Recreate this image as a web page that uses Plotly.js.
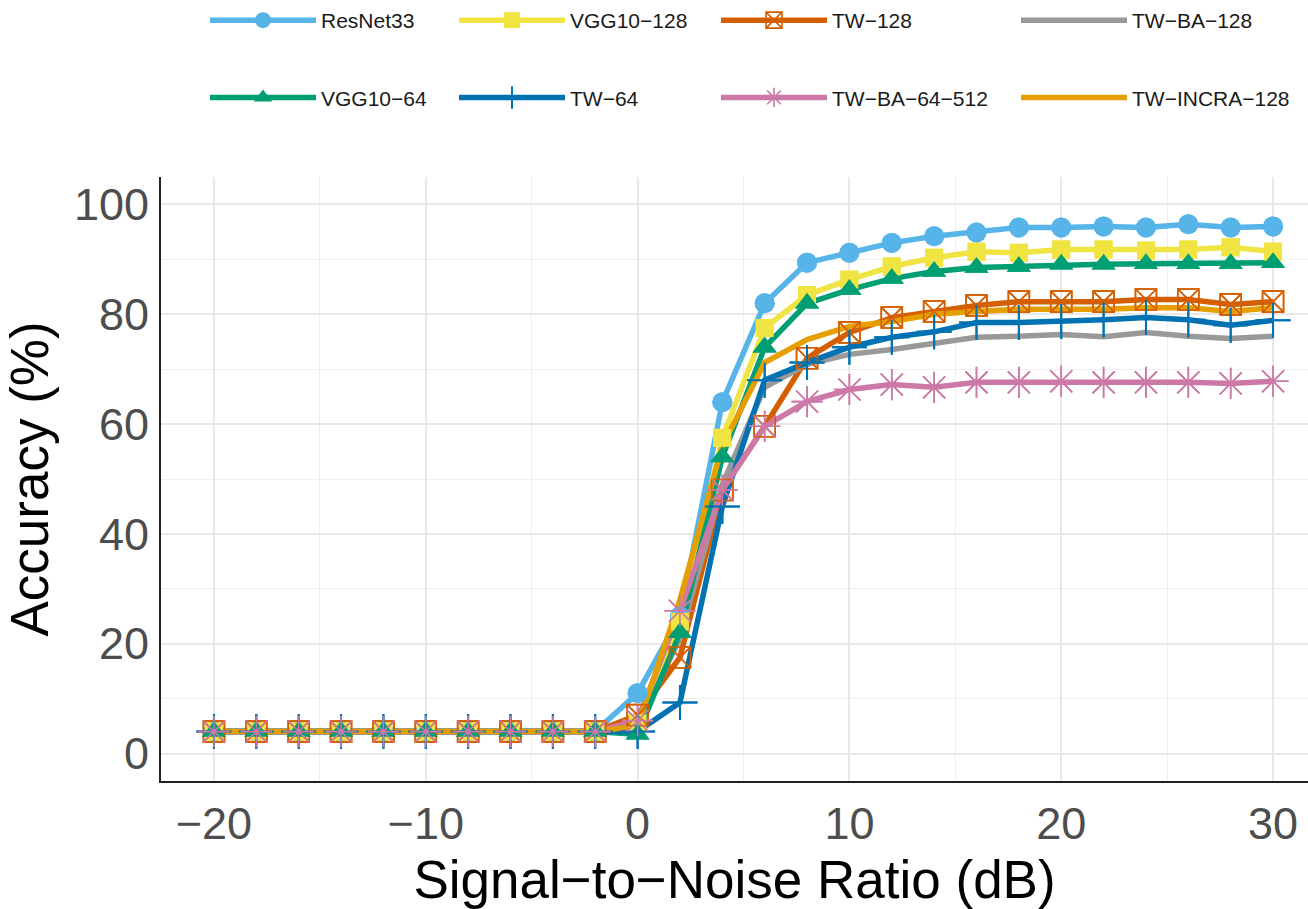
<!DOCTYPE html>
<html>
<head>
<meta charset="utf-8">
<script src="https://cdn.plot.ly/plotly-3.0.1.min.js"></script>
<style>html,body{margin:0;padding:0;background:#fff;}</style>
</head>
<body>
<div id="chart" style="width:1308px;height:909px;"></div>
<script>
// ---- data ----
const snr = [-20,-18,-16,-14,-12,-10,-8,-6,-4,-2,0,2,4,6,8,10,12,14,16,18,20,22,24,26,28,30];
const resnet33    = [4,4,4,4,4,4,4,4,4,4, 11, 25, 64, 82, 89.4, 91.2, 93, 94.2, 94.9, 95.8, 95.8, 96, 95.8, 96.4, 95.8, 96];
const vgg10_128   = [4,4,4,4,4,4,4,4,4,4, 5.5, 24, 57.5, 77.5, 83.5, 86.3, 88.7, 90.3, 91.4, 91.2, 91.8, 91.8, 91.6, 91.8, 92.2, 91.4];
const tw_128      = [4,4,4,4,4,4,4,4,4,4, 7, 17.5, 48, 59.6, 72, 76.7, 79.4, 80.5, 81.6, 82.3, 82.3, 82.3, 82.7, 82.7, 81.8, 82.3];
const tw_ba_128   = [4,4,4,4,4,4,4,4,4,4, 5, 21, 49, 66.7, 70.9, 72.7, 73.6, 74.8, 75.8, 76, 76.3, 75.9, 76.7, 76, 75.6, 76];
const vgg10_64    = [4,4,4,4,4,4,4,4,4,4, 3.5, 22, 54, 74, 82, 84.5, 86.5, 87.8, 88.5, 88.7, 89.1, 89.1, 89.2, 89.2, 89.2, 89.4];
const tw_64       = [4,4,4,4,4,4,4,4,4,4, 4, 9.3, 45, 68, 71.2, 74, 75.8, 76.8, 78.5, 78.5, 78.7, 79, 79.4, 79, 78, 78.9];
const tw_ba_64_512= [4,4,4,4,4,4,4,4,4,4, 6, 26, 48, 59.6, 64.1, 66.3, 67.2, 66.7, 67.6, 67.6, 67.8, 67.6, 67.6, 67.6, 67.4, 67.8];
const tw_incra_128= [4,4,4,4,4,4,4,4,4,4, 5, 28, 56, 71.2, 75.4, 77.8, 78.7, 80, 80.5, 80.9, 80.9, 80.9, 81.2, 81.2, 80.5, 81.2];
const seriesNames = ['ResNet33','VGG10−128','TW−128','TW−BA−128','VGG10−64','TW−64','TW−BA−64−512','TW−INCRA−128'];
const xTicks = [-20,-10,0,10,20,30];
const yTicks = [0,20,40,60,80,100];

// ---- styles ----
const seriesData = [resnet33, vgg10_128, tw_128, tw_ba_128, vgg10_64, tw_64, tw_ba_64_512, tw_incra_128];
const styles = [
  {color:'#56B4E9', symbol:'circle', size:20, lw:0, legend:'legend'},
  {color:'#F0E442', symbol:'square', size:18, lw:0, legend:'legend2'},
  {color:'#D55E00', symbol:'square-x-open', size:21, lw:1.6, legend:'legend3'},
  {color:'#999999', symbol:null, legend:'legend4'},
  {color:'#009E73', symbol:'triangle-up', size:21, lw:0, legend:'legend'},
  {color:'#0072B2', symbol:'cross-thin-open', size:25, lw:2, legend:'legend2'},
  {color:'#CC79A7', symbol:'asterisk-open', size:26, lw:1.6, legend:'legend3'},
  {color:'#E69F00', symbol:null, legend:'legend4'}
];

const traces = [];
// lines (with legend entries)
seriesData.forEach((ys, i) => {
  const s = styles[i];
  const t = {
    x: snr, y: ys, name: seriesNames[i], type: 'scatter',
    mode: s.symbol ? 'lines+markers' : 'lines',
    line: {color: s.color, width: 5.5},
    legend: s.legend, legendgroup: seriesNames[i],
    hoverinfo: 'x+y+name'
  };
  if (s.symbol) t.marker = {symbol: s.symbol, size: s.size, color: s.color, line: {color: s.color, width: s.lw}};
  traces.push(t);
});
// markers on top of all lines
seriesData.forEach((ys, i) => {
  const s = styles[i];
  if (!s.symbol) return;
  traces.push({
    x: snr, y: ys, name: seriesNames[i], type: 'scatter', mode: 'markers',
    marker: {symbol: s.symbol, size: s.size, color: s.color, line: {color: s.color, width: s.lw}},
    showlegend: false, legendgroup: seriesNames[i], hoverinfo: 'skip'
  });
});

const FONT = 'Liberation Sans, Arial, Helvetica, sans-serif';
const L = 161, R = 0, T = 176, B = 128;
const W = 1308, H = 909;
const pw = W - L - R, ph = H - T - B;
function px2x(p){ return (p - L) / pw; }
function py2y(p){ return (H - B - p) / ph; }

function leg(px, py){
  return {
    x: px2x(px), y: py2y(py), xanchor: 'left', yanchor: 'top',
    orientation: 'v', bgcolor: 'rgba(0,0,0,0)', borderwidth: 0,
    font: {family: FONT, size: 21, color: '#1a1a1a'},
    itemwidth: 106, tracegroupgap: 47, traceorder: 'grouped', itemclick: false, itemdoubleclick: false
  };
}

const layout = {
  width: W, height: H,
  margin: {l: L, r: R, t: T, b: B, pad: 0},
  paper_bgcolor: '#fff', plot_bgcolor: '#fff',
  font: {family: FONT},
  showlegend: true,
  legend: leg(205, -1),
  legend2: leg(454, -1),
  legend3: leg(716, -1),
  legend4: leg(1016, -1),
  xaxis: {
    range: [-22.5, 31.65], tickvals: xTicks, ticktext: xTicks.map(v => v < 0 ? '−' + Math.abs(v) : String(v)),
    showgrid: true, gridcolor: '#e8e8e8', gridwidth: 1.6,
    minor: {dtick: 5, tick0: 0, showgrid: true, gridcolor: '#efefef', gridwidth: 1.4},
    zeroline: false, showline: true, linecolor: '#222', linewidth: 2,
    ticks: '', tickfont: {family: FONT, size: 45, color: '#4d4d4d'},
    ticklabelstandoff: 2,
    title: {text: 'Signal−to−Noise Ratio (dB)', font: {family: FONT, size: 53, color: '#000'}, standoff: 22},
    automargin: false
  },
  yaxis: {
    range: [-5, 105], tickvals: yTicks,
    showgrid: true, gridcolor: '#e8e8e8', gridwidth: 1.6,
    minor: {dtick: 10, tick0: 0, showgrid: true, gridcolor: '#efefef', gridwidth: 1.4},
    zeroline: false, showline: true, linecolor: '#222', linewidth: 2,
    ticks: '', tickfont: {family: FONT, size: 45, color: '#4d4d4d'},
    ticklabelstandoff: 1,
    title: {text: 'Accuracy (%)', font: {family: FONT, size: 53, color: '#000'}, standoff: 9},
    automargin: false
  }
};

Plotly.newPlot('chart', traces, layout, {displayModeBar: false, staticPlot: false});
</script>
</body>
</html>
